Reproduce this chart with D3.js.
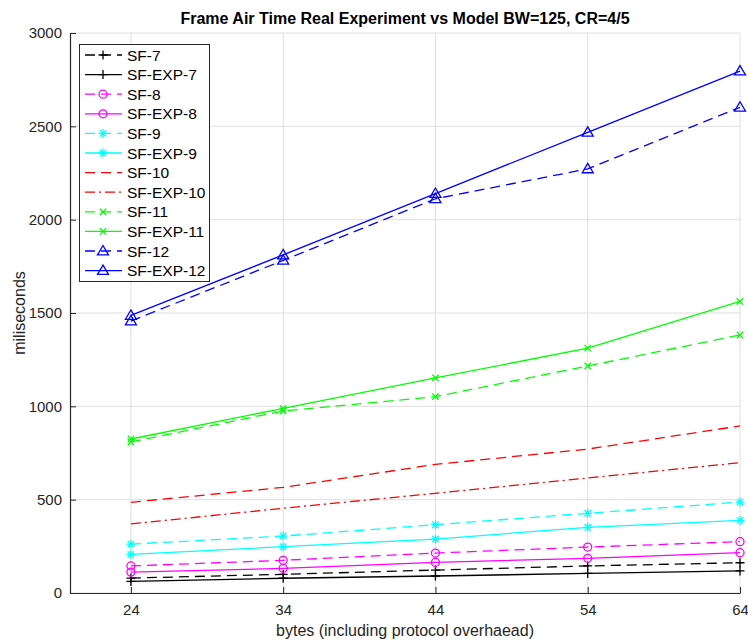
<!DOCTYPE html>
<html>
<head>
<meta charset="utf-8">
<script src="https://cdn.jsdelivr.net/npm/d3@7"></script>
<style>
body { margin: 0; background: #fff; }
text { font-family: "Liberation Sans", Arial, Helvetica, sans-serif; }
</style>
</head>
<body>
<div id="c"></div>
<script>
var bytes = [24, 34, 44, 54, 64];

var sf7 = [80, 100, 123, 145, 162];
var sf_exp7 = [62, 79, 91, 105, 118];
var sf8 = [145, 175, 214, 246, 275];
var sf_exp8 = [112, 132, 164, 186, 216];
var sf9 = [262, 305, 366, 427, 487];
var sf_exp9 = [207, 248, 289, 352, 389];
var sf10 = [486, 566, 689, 771, 895];
var sf_exp10 = [370, 454, 534, 616, 698];
var sf11 = [809, 975, 1052, 1216, 1382];
var sf_exp11 = [825, 989, 1152, 1312, 1562];
var sf12 = [1457, 1782, 2112, 2272, 2602];
var sf_exp12 = [1487, 1811, 2140, 2468, 2796];

var x_ticks = [24, 34, 44, 54, 64];
var y_ticks = [0, 500, 1000, 1500, 2000, 2500, 3000];

var series = [
	{ name: 'SF-7', values: sf7, color: '#000000', dash: '10,6', marker: 'plus' },
	{ name: 'SF-EXP-7', values: sf_exp7, color: '#000000', dash: null, marker: 'plus' },
	{ name: 'SF-8', values: sf8, color: '#ff00ff', dash: '10,6', marker: 'circle' },
	{ name: 'SF-EXP-8', values: sf_exp8, color: '#ff00ff', dash: null, marker: 'circle' },
	{ name: 'SF-9', values: sf9, color: '#00ffff', dash: '10,6', marker: 'star' },
	{ name: 'SF-EXP-9', values: sf_exp9, color: '#00ffff', dash: null, marker: 'star' },
	{ name: 'SF-10', values: sf10, color: '#ff0000', dash: '10,6', marker: null },
	{ name: 'SF-EXP-10', values: sf_exp10, color: '#ff0000', dash: '10,4,2,4', marker: null },
	{ name: 'SF-11', values: sf11, color: '#00ff00', dash: '10,6', marker: 'cross' },
	{ name: 'SF-EXP-11', values: sf_exp11, color: '#00ff00', dash: null, marker: 'cross' },
	{ name: 'SF-12', values: sf12, color: '#0000ff', dash: '10,6', marker: 'triangle' },
	{ name: 'SF-EXP-12', values: sf_exp12, color: '#0000ff', dash: null, marker: 'triangle' }
];

var width = 748, height = 641;
var left = 70, right = 740, top_y = 33, bottom = 593;
var axis_color = '#262626';

var svg = d3.select('#c').append('svg')
	.attr('width', width)
	.attr('height', height);

var x_scale = d3.scaleLinear().domain([20, 64]).range([left, right]);
var y_scale = d3.scaleLinear().domain([0, 3000]).range([bottom, top_y]);

// grid
svg.append('g').selectAll('line')
	.data(x_ticks).enter().append('line')
	.attr('x1', function(d) { return x_scale(d); })
	.attr('x2', function(d) { return x_scale(d); })
	.attr('y1', top_y).attr('y2', bottom)
	.attr('stroke', '#dfdfdf').attr('stroke-width', 1);

svg.append('g').selectAll('line')
	.data(y_ticks).enter().append('line')
	.attr('y1', function(d) { return y_scale(d); })
	.attr('y2', function(d) { return y_scale(d); })
	.attr('x1', left).attr('x2', right)
	.attr('stroke', '#dfdfdf').attr('stroke-width', 1);

// axes, ticks pointing inward
var x_axis = svg.append('g')
	.attr('transform', 'translate(0,' + bottom + ')')
	.call(d3.axisBottom(x_scale).tickValues(x_ticks).tickFormat(d3.format('d'))
		.tickSizeInner(-6).tickSizeOuter(0).tickPadding(11));

var y_axis = svg.append('g')
	.attr('transform', 'translate(' + left + ',0)')
	.call(d3.axisLeft(y_scale).tickValues(y_ticks).tickFormat(d3.format('d'))
		.tickSizeInner(-6).tickSizeOuter(0).tickPadding(8));

[x_axis, y_axis].forEach(function(a) {
	a.select('.domain').attr('stroke', axis_color).attr('stroke-width', 1.2);
	a.selectAll('.tick line').attr('stroke', axis_color);
	a.selectAll('.tick text')
		.attr('fill', axis_color)
		.style('font-size', '15px')
		.style('font-family', '"Liberation Sans", Arial, sans-serif');
});

// titles
svg.append('text')
	.attr('x', (left + right) / 2)
	.attr('y', 24)
	.attr('text-anchor', 'middle')
	.style('font-size', '16px')
	.style('font-weight', 'bold')
	.attr('fill', '#000')
	.text('Frame Air Time Real Experiment vs Model BW=125, CR=4/5');

svg.append('text')
	.attr('x', (left + right) / 2)
	.attr('y', 636)
	.attr('text-anchor', 'middle')
	.style('font-size', '16px')
	.attr('fill', axis_color)
	.text('bytes (including protocol overhaead)');

svg.append('text')
	.attr('transform', 'translate(25,' + ((top_y + bottom) / 2) + ') rotate(-90)')
	.attr('text-anchor', 'middle')
	.style('font-size', '16px')
	.attr('fill', axis_color)
	.text('miliseconds');

function draw_marker(g, type, color, x, y) {
	var s = 4.5;
	if (type === 'plus') {
		g.append('path')
			.attr('d', 'M' + (x - s) + ' ' + y + ' L' + (x + s) + ' ' + y + ' M' + x + ' ' + (y - s) + ' L' + x + ' ' + (y + s))
			.attr('stroke', color).attr('stroke-width', 1.3).attr('fill', 'none');
	} else if (type === 'circle') {
		g.append('circle')
			.attr('cx', x).attr('cy', y).attr('r', 4)
			.attr('stroke', color).attr('stroke-width', 1.3).attr('fill', 'none');
	} else if (type === 'cross') {
		var c = 3.2;
		g.append('path')
			.attr('d', 'M' + (x - c) + ' ' + (y - c) + ' L' + (x + c) + ' ' + (y + c) + ' M' + (x - c) + ' ' + (y + c) + ' L' + (x + c) + ' ' + (y - c))
			.attr('stroke', color).attr('stroke-width', 1.3).attr('fill', 'none');
	} else if (type === 'star') {
		var c2 = s * 0.72;
		g.append('path')
			.attr('d', 'M' + (x - s) + ' ' + y + ' L' + (x + s) + ' ' + y + ' M' + x + ' ' + (y - s) + ' L' + x + ' ' + (y + s) +
				' M' + (x - c2) + ' ' + (y - c2) + ' L' + (x + c2) + ' ' + (y + c2) + ' M' + (x - c2) + ' ' + (y + c2) + ' L' + (x + c2) + ' ' + (y - c2))
			.attr('stroke', color).attr('stroke-width', 1.3).attr('fill', 'none');
	} else if (type === 'triangle') {
		var t = 5.5;
		g.append('path')
			.attr('d', 'M' + x + ' ' + (y - t) + ' L' + (x + t) + ' ' + (y + t * 0.7) + ' L' + (x - t) + ' ' + (y + t * 0.7) + ' Z')
			.attr('stroke', color).attr('stroke-width', 1.3).attr('fill', 'none');
	}
}

var line = d3.line()
	.x(function(d, i) { return x_scale(bytes[i]); })
	.y(function(d) { return y_scale(d); });

var plot = svg.append('g');
series.forEach(function(s) {
	var g = plot.append('g').attr('class', 'series');
	g.append('path')
		.datum(s.values)
		.attr('d', line)
		.attr('fill', 'none')
		.attr('stroke', s.color)
		.attr('stroke-width', 1.3)
		.attr('stroke-dasharray', s.dash);
	if (s.marker) {
		s.values.forEach(function(v, i) {
			draw_marker(g, s.marker, s.color, x_scale(bytes[i]), y_scale(v));
		});
	}
});

// legend
var lg_x = 79, lg_y = 44, lg_w = 130, row_h = 19.6;
var legend = svg.append('g');
legend.append('rect')
	.attr('x', lg_x + 0.5).attr('y', lg_y + 0.5)
	.attr('width', lg_w).attr('height', 237)
	.attr('fill', '#fff').attr('stroke', axis_color).attr('stroke-width', 1);

series.forEach(function(s, i) {
	var yy = lg_y + 11 + i * row_h;
	legend.append('line')
		.attr('x1', lg_x + 6).attr('x2', lg_x + 43)
		.attr('y1', yy).attr('y2', yy)
		.attr('stroke', s.color).attr('stroke-width', 1.3)
		.attr('stroke-dasharray', s.dash);
	if (s.marker) draw_marker(legend, s.marker, s.color, lg_x + 24, yy);
	legend.append('text')
		.attr('x', lg_x + 48).attr('y', yy + 5.5)
		.style('font-size', '15.5px')
		.attr('fill', '#000')
		.text(s.name);
});
</script>
</body>
</html>
